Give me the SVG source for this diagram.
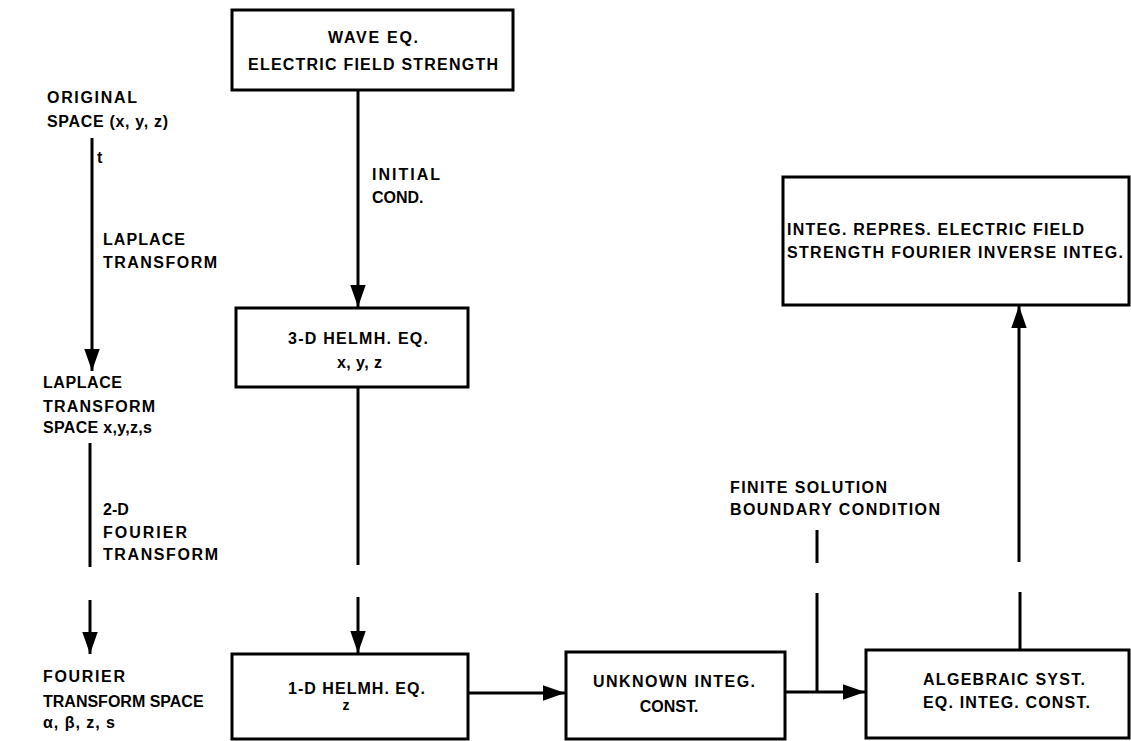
<svg xmlns="http://www.w3.org/2000/svg" width="1131" height="741" viewBox="0 0 1131 741">
<style>
.box{fill:#fff;stroke:#000;stroke-width:3}
.ln{fill:none;stroke:#000;stroke-width:3}
text{font-family:"Liberation Sans",Arial,sans-serif;font-weight:bold;font-size:16px;fill:#000}
.c{text-anchor:middle}
</style>
<defs>
<marker id="ah" markerUnits="userSpaceOnUse" markerWidth="22" markerHeight="16" refX="20" refY="7" orient="auto" viewBox="0 0 20 14">
<path d="M0,0 L20,7 L0,14 Z" fill="#000"/>
</marker>
</defs>
<rect width="1131" height="741" fill="#fff"/>
<g id="connectors">
<line class="ln" x1="358" y1="90" x2="358" y2="307" marker-end="url(#ah)"/>
<line class="ln" x1="358" y1="387" x2="358" y2="565"/>
<line class="ln" x1="358" y1="597" x2="358" y2="653" marker-end="url(#ah)"/>
<line class="ln" x1="92" y1="138" x2="92" y2="371" marker-end="url(#ah)"/>
<line class="ln" x1="90" y1="443" x2="90" y2="567"/>
<line class="ln" x1="90" y1="600" x2="90" y2="654" marker-end="url(#ah)"/>
<line class="ln" x1="468" y1="693" x2="565" y2="693" marker-end="url(#ah)"/>
<line class="ln" x1="785" y1="692" x2="865" y2="692" marker-end="url(#ah)"/>
<line class="ln" x1="817" y1="530" x2="817" y2="563"/>
<line class="ln" x1="817" y1="593" x2="817" y2="692"/>
<line class="ln" x1="1020" y1="650" x2="1020" y2="592"/>
<line class="ln" x1="1019" y1="562" x2="1019" y2="306" marker-end="url(#ah)"/>
</g>
<g id="labels">
<text x="47" y="103" textLength="90">ORIGINAL</text>
<text x="47" y="127" textLength="121">SPACE (x, y, z)</text>
<text x="97" y="163">t</text>
<text x="103" y="245" textLength="82">LAPLACE</text>
<text x="103" y="268" textLength="114">TRANSFORM</text>
<text x="43" y="388" textLength="79">LAPLACE</text>
<text x="43" y="412" textLength="112">TRANSFORM</text>
<text x="43" y="433" textLength="109">SPACE x,y,z,s</text>
<text x="103" y="515">2-D</text>
<text x="103" y="538" textLength="84">FOURIER</text>
<text x="103" y="560" textLength="115">TRANSFORM</text>
<text x="43" y="682" textLength="82">FOURIER</text>
<text x="43" y="707">TRANSFORM SPACE</text>
<text x="43" y="728" textLength="72">α, β, z, s</text>
<text x="372" y="180" textLength="68">INITIAL</text>
<text x="372" y="203">COND.</text>
<text x="730" y="493" textLength="157">FINITE SOLUTION</text>
<text x="730" y="515" textLength="210">BOUNDARY CONDITION</text>
</g>
<g id="wave">
<rect class="box" x="232" y="10" width="281" height="80"/>
<text x="328" y="43" textLength="90">WAVE EQ.</text>
<text x="248" y="70" textLength="250">ELECTRIC FIELD STRENGTH</text>
</g>
<g id="helmh3">
<rect class="box" x="236" y="308" width="232" height="79"/>
<text x="288" y="344" textLength="140">3-D HELMH. EQ.</text>
<text x="337" y="368" textLength="45">x, y, z</text>
</g>
<g id="helmh1">
<rect class="box" x="232" y="654" width="236" height="85"/>
<text x="288" y="694" textLength="137">1-D HELMH. EQ.</text>
<text x="346" y="710" class="c" style="font-size:14px">z</text>
</g>
<g id="unknown">
<rect class="box" x="566" y="652" width="219" height="87"/>
<text x="593" y="687" textLength="162">UNKNOWN INTEG.</text>
<text x="669" y="712" class="c">CONST.</text>
</g>
<g id="algebraic">
<rect class="box" x="866" y="650" width="263" height="88"/>
<text x="923" y="685" textLength="162">ALGEBRAIC SYST.</text>
<text x="923" y="708" textLength="167">EQ. INTEG. CONST.</text>
</g>
<g id="integ">
<rect class="box" x="783" y="177" width="346" height="128"/>
<text x="787" y="235" textLength="297">INTEG. REPRES. ELECTRIC FIELD</text>
<text x="787" y="258" textLength="336">STRENGTH FOURIER INVERSE INTEG.</text>
</g>
</svg>
